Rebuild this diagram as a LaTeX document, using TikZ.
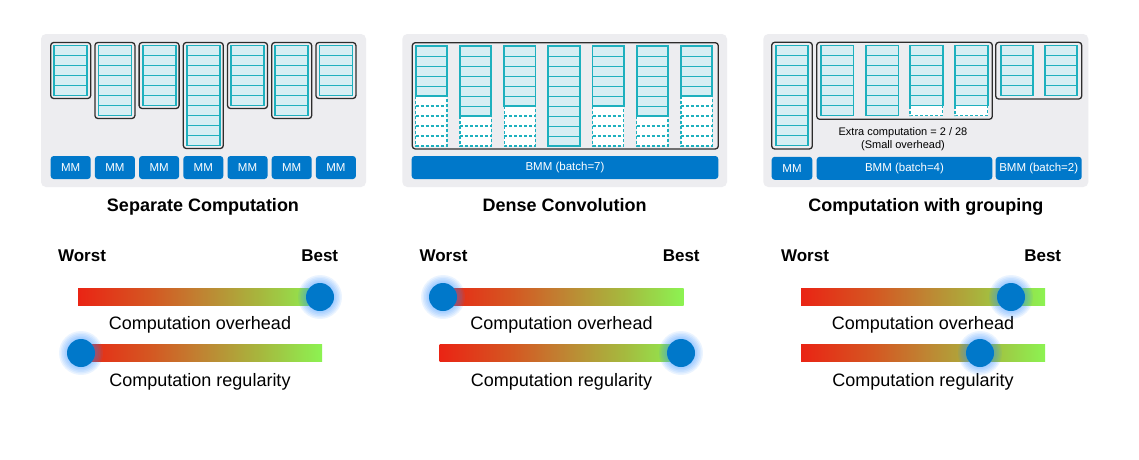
\documentclass[tikz,border=0pt]{standalone}
\usepackage{fontspec}
\setmainfont{Liberation Sans}
\definecolor{bggray}{RGB}{237,237,240}
\definecolor{cteal}{RGB}{30,176,190}
\definecolor{cfill}{RGB}{214,238,243}
\definecolor{cblue}{RGB}{0,120,202}
\definecolor{cglow}{RGB}{40,140,255}
\definecolor{cdark}{RGB}{45,45,45}
\definecolor{gA}{RGB}{234,36,20}
\definecolor{gB}{RGB}{212,88,34}
\definecolor{gC}{RGB}{192,130,50}
\definecolor{gD}{RGB}{166,184,62}
\definecolor{gE}{RGB}{140,243,82}
\pgfdeclarehorizontalshading{redgreen}{100bp}{color(0bp)=(gA); color(25bp)=(gA); color(40bp)=(gB); color(50bp)=(gC); color(62.5bp)=(gD); color(75bp)=(gE); color(100bp)=(gE)}
\tikzset{
  panelbg/.style={fill=bggray, rounded corners=5pt},
  grpbox/.style={draw=cdark, line width=1.3pt, rounded corners=3pt},
  matfill/.style={fill=cfill},
  rowline/.style={draw=cteal, line width=1pt},
  matborder/.style={draw=cteal, line width=1.8pt},
  padbox/.style={draw=cteal, line width=1.2pt, dash pattern=on 3pt off 2pt, fill=white},
  padline/.style={draw=cteal, line width=1.2pt, dash pattern=on 3pt off 2pt},
  btn/.style={fill=cblue, rounded corners=3pt, text=white, inner sep=0pt, minimum height=23pt, font=\fontsize{11.5}{13}\selectfont},
  title/.style={font=\fontsize{18}{22}\selectfont\bfseries, anchor=base, inner sep=0pt},
  endlbl/.style={font=\fontsize{17}{20}\selectfont\bfseries, anchor=base, inner sep=0pt},
  barlbl/.style={font=\fontsize{18}{22}\selectfont, anchor=base, inner sep=0pt},
  note/.style={font=\fontsize{11}{13}\selectfont, anchor=base, inner sep=0pt},
  knob/.style={circle, fill=cblue, inner sep=0pt, minimum size=28pt},
  gradbar/.style={shading=redgreen},
}
\begin{document}
\begin{tikzpicture}[x=1pt,y=-1pt]
\useasboundingbox (0,0) rectangle (1139,459);
\fill[white] (0,0) rectangle (1139,459);

% ---------------- Panel 1: Separate Computation ----------------
\fill[panelbg] (41,34) rectangle (366,187);
\foreach \i/\n in {0/5,1/7,2/6,3/10,4/6,5/7,6/5} {
  \pgfmathsetmacro\xl{50.7+44.2*\i}
  \pgfmathsetmacro\hb{10*\n+6}
  \pgfmathsetmacro\hi{10*\n}
  \draw[grpbox] (\xl,42.5) rectangle ++(40,\hb);
  \fill[matfill] (\xl+3.5,45.5) rectangle ++(33,\hi);
  \foreach \k in {1,...,\n} \draw[rowline] (\xl+3.5,45.5+10*\k) -- ++(33,0);
  \draw[matborder] (\xl+3.5,45.5) rectangle ++(33,\hi);
  \node[btn, minimum width=40pt] (mmA\i) at (\xl+20,167.5) {MM};
}
\node[title] (t1) at (203,211.7) {Separate Computation};

% ---------------- Panel 2: Dense Convolution ----------------
\fill[panelbg] (402.3,34) rectangle (727,187);
\draw[grpbox] (412.3,42.7) rectangle (718.3,149);
\foreach \i/\n in {0/5,1/7,2/6,3/10,4/6,5/7,6/5} {
  \pgfmathsetmacro\xl{415.7+44.2*\i}
  \pgfmathsetmacro\hi{10*\n}
  \ifnum\n<10
    \pgfmathsetmacro\hp{100-10*\n}
    \path[padbox] (\xl,46+\hi) rectangle ++(31.3,\hp);
    \foreach \k in {\n,...,9} \draw[padline] (\xl,46+10*\k) -- ++(31.3,0);
  \fi
  \fill[matfill] (\xl,46) rectangle ++(31.3,\hi);
  \foreach \k in {1,...,\n} \draw[rowline] (\xl,46+10*\k) -- ++(31.3,0);
  \draw[matborder] (\xl,46) rectangle ++(31.3,\hi);
}
\node[btn, minimum width=306.6pt] (bmm7) at (565,167.5) {BMM (batch=7)};
\node[title] (t2) at (564.7,211.7) {Dense Convolution};

% ---------------- Panel 3: Computation with grouping ----------------
\fill[panelbg] (763.3,34) rectangle (1088.3,187);
% MM column
\draw[grpbox] (771.7,42.3) rectangle (812.3,149);
\fill[matfill] (775.7,45.5) rectangle ++(32.6,100);
\foreach \k in {1,...,10} \draw[rowline] (775.7,45.5+10*\k) -- ++(32.6,0);
\draw[matborder] (775.7,45.5) rectangle ++(32.6,100);
% BMM batch=4 group
\draw[grpbox] (816.7,42.3) rectangle (992.3,119.3);
\foreach \xl/\n in {820.7/7,865.7/7,910/6,955/6} {
  \pgfmathsetmacro\hi{10*\n}
  \ifnum\n<7
    \path[padbox] (\xl,45.5+\hi) rectangle ++(32.7,10);
  \fi
  \fill[matfill] (\xl,45.5) rectangle ++(32.7,\hi);
  \foreach \k in {1,...,\n} \draw[rowline] (\xl,45.5+10*\k) -- ++(32.7,0);
  \draw[matborder] (\xl,45.5) rectangle ++(32.7,\hi);
}
% BMM batch=2 group
\draw[grpbox] (995.7,42.3) rectangle (1081.7,99);
\foreach \xl in {1000.7,1045} {
  \fill[matfill] (\xl,45.5) rectangle ++(32.3,50);
  \foreach \k in {1,...,5} \draw[rowline] (\xl,45.5+10*\k) -- ++(32.3,0);
  \draw[matborder] (\xl,45.5) rectangle ++(32.3,50);
}
\node[note] (extra1) at (903,135) {Extra computation = 2 / 28};
\node[note] (extra2) at (903,148) {(Small overhead)};
\node[btn, minimum width=40.6pt] (mmC) at (792,168.3) {MM};
\node[btn, minimum width=175.6pt] (bmm4) at (904.5,168.3) {BMM (batch=4)};
\node[btn, minimum width=86pt] (bmm2) at (1038.7,168.3) {BMM (batch=2)};
\node[title] (t3) at (925.8,211.7) {Computation with grouping};

% ---------------- Sliders ----------------
\foreach \p/\xo/\ka/\kb in {1/0/320/81, 2/361.5/443/681, 3/723/1011/980} {
  \node[endlbl] (worst\p) at (82+\xo,261.5) {Worst};
  \node[endlbl] (best\p) at (319.7+\xo,261.5) {Best};
  \shade[gradbar] (78+\xo,288.5) rectangle (322+\xo,305.5);
  \shade[gradbar] (78+\xo,344.5) rectangle (322+\xo,361.5);
  \node[barlbl] (ovh\p) at (200+\xo,329.5) {Computation overhead};
  \node[barlbl] (reg\p) at (200+\xo,386) {Computation regularity};
  \foreach \r in {22,20.5,19,17.5,16,14.5} {
    \fill[cglow, opacity=0.09] (\ka,297) circle (\r pt);
    \fill[cglow, opacity=0.09] (\kb,353) circle (\r pt);
  }
  \node[knob] (ka\p) at (\ka,297) {};
  \node[knob] (kb\p) at (\kb,353) {};
}
\end{tikzpicture}
\end{document}
